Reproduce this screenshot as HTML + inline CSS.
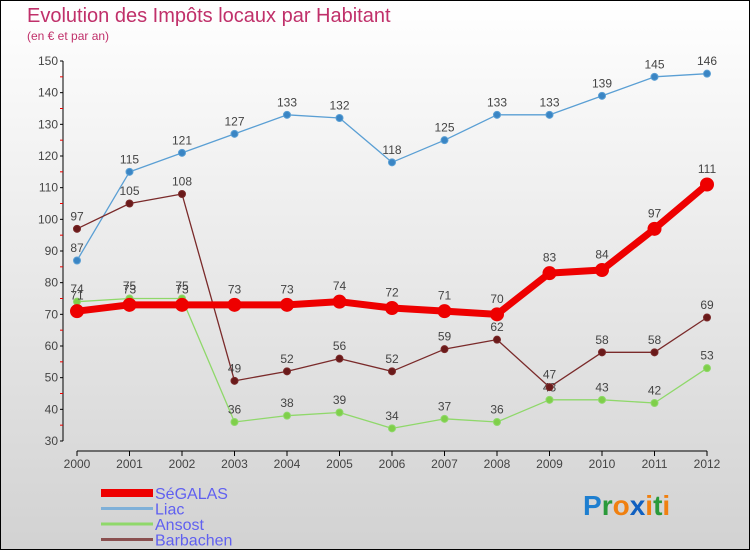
<!DOCTYPE html>
<html><head><meta charset="utf-8"><style>
body{margin:0}
#c{width:750px;height:550px;position:relative;box-sizing:border-box;border:1px solid #000;background:linear-gradient(#fff,#d2d2d2);font-family:"Liberation Sans",sans-serif;overflow:hidden}
svg{position:absolute;left:0;top:0}
</style></head><body>
<div id="c">
<svg id="s" width="750" height="550">
<text x="26" y="21" font-size="20" fill="#c0306a">Evolution des Impôts locaux par Habitant</text>
<text x="26" y="39" font-size="12" fill="#c0306a">(en € et par an)</text>
</svg>
</div>
<script>
const years=["2000","2001","2002","2003","2004","2005","2006","2007","2008","2009","2010","2011","2012"];
const segalas=[71,73,73,73,73,74,72,71,70,83,84,97,111];
const liac=[87,115,121,127,133,132,118,125,133,133,139,145,146];
const ansost=[74,75,75,36,38,39,34,37,36,43,43,42,53];
const barbachen=[97,105,108,49,52,56,52,59,62,47,58,58,69];
const yTicks=[30,40,50,60,70,80,90,100,110,120,130,140,150];
const NS="http://www.w3.org/2000/svg",s=document.getElementById('s');
const X=i=>76+i*52.5, Y=v=>440-(v-30)*380/120;
function el(t,a,p){const e=document.createElementNS(NS,t);for(const k in a)e.setAttribute(k,a[k]);(p||s).appendChild(e);return e;}
// axes
let ya=el('line',{x1:62,y1:60,x2:62,y2:440,stroke:'#000'});


yTicks.forEach(v=>{el('line',{x1:59,y1:Y(v),x2:62,y2:Y(v),stroke:'#000'});
el('line',{x1:59,y1:Y(v+5),x2:62,y2:Y(v+5),stroke:v<150?'#e00':'none'});
const t=el('text',{x:57,y:Y(v)+4,'font-size':12,fill:'#444','text-anchor':'end'});t.textContent=v;

});
let xa=el('line',{x1:76,y1:450,x2:706,y2:450,stroke:'#000'});


years.forEach((y,i)=>{el('line',{x1:X(i),y1:450,x2:X(i),y2:455,stroke:'#000'});
const t=el('text',{x:X(i),y:467,'font-size':12,fill:'#444','text-anchor':'middle'});t.textContent=y;

});
function series(d,col,dot,w,r,name,fs){
 const g=el('g',{});
 
 
 el('polyline',{points:d.map((v,i)=>X(i)+','+Y(v)).join(' '),fill:'none',stroke:col,'stroke-width':w,'stroke-linejoin':'round'},g);
 d.forEach((v,i)=>{const c=el('circle',{cx:X(i),cy:Y(v),r:r,fill:dot,stroke:col},g);
 
 
 const t=el('text',{x:X(i),y:Y(v)-r-5,'font-size':fs,fill:'#444','text-anchor':'middle'},g);t.textContent=v;
 
 });
}
series(liac,'#5a9fd4','#3a85c4',1.3,3.5,'liac',12);
series(ansost,'#8fd86a','#7fcf4a',1.3,3.5,'ansost',12);
series(barbachen,'#7a2a2a','#6a1a1a',1.3,3.5,'barbachen',12);
series(segalas,'#ee0000','#ee0000',7,6.5,'segalas',12);
// legend
const leg=[['SéGALAS','#ee0000',8],['Liac','#7fb0d8',3],['Ansost','#8fd86a',3],['Barbachen','#8a5050',3]];
leg.forEach((l,i)=>{const y=492+i*15.5;
 const g=el('g',{});
 el('line',{x1:100,y1:y,x2:152,y2:y,stroke:l[1],'stroke-width':l[2]},g);
 const t=el('text',{x:154,y:y+6,'font-size':16,fill:'#6060f0'},g);t.textContent=l[0];});
// logo
const lg=el('text',{x:582,y:514,'font-size':28,'font-weight':'bold'});


[['P','#1e7fd0'],['r','#2a9a3a'],['o','#f08010'],['x','#1060c0'],['i','#f08010'],['t','#2a9a3a'],['i','#f08010']].forEach(p=>{el('tspan',{fill:p[1]},lg).textContent=p[0];});
</script>
</body></html>
